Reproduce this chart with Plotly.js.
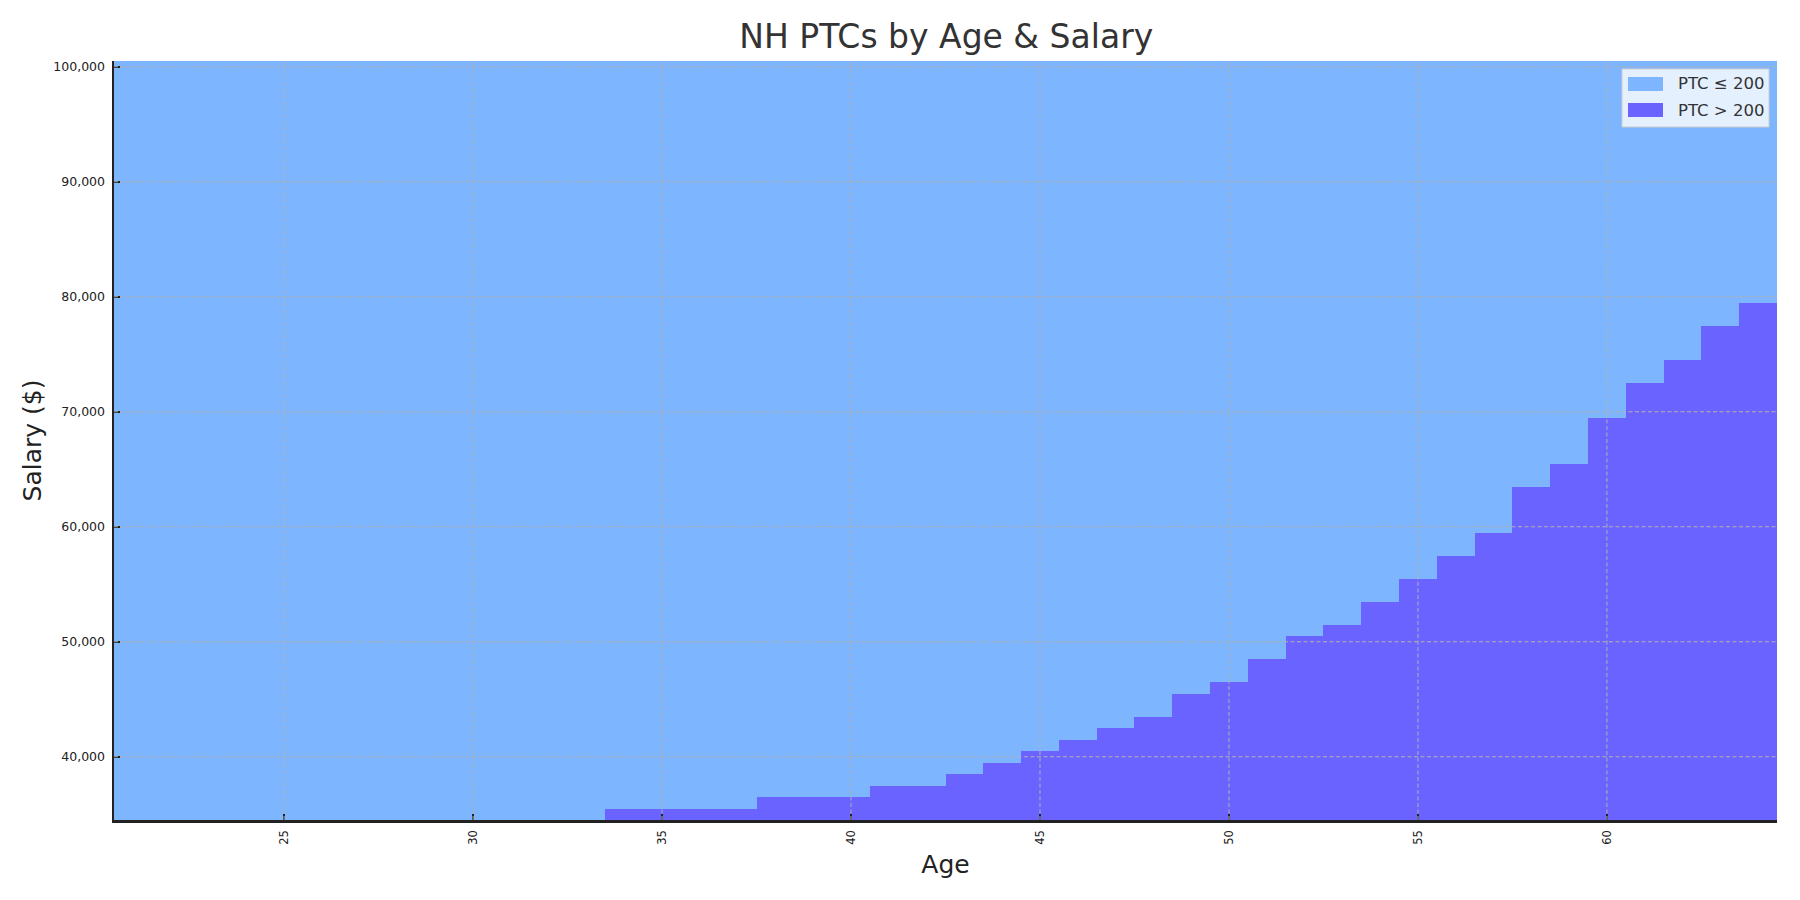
<!DOCTYPE html>
<html>
<head>
<meta charset="utf-8">
<script src="https://cdn.plot.ly/plotly-3.0.1.min.js"></script>
<style>
  html, body { margin: 0; padding: 0; background: #ffffff; }
  #chart { width: 1800px; height: 900px; }
</style>
</head>
<body>
<div id="chart"></div>
<script>
// ---- Data ----
const ages = [21,22,23,24,25,26,27,28,29,30,31,32,33,34,35,36,37,38,39,40,41,42,43,44,45,46,47,48,49,50,51,52,53,54,55,56,57,58,59,60,61,62,63,64];
// highest salary (in $1,000 bins) at which PTC > 200, per age (null = none)
const maxSalaryPtcOver200 = [null,null,null,null,null,null,null,null,null,null,null,null,null,
  35000,35000,35000,35000,36000,36000,36000,37000,37000,38000,39000,40000,41000,42000,43000,
  45000,46000,48000,50000,51000,53000,55000,57000,59000,63000,65000,69000,72000,74000,77000,79000];
const salaryMin = 35000;
const salaryMax = 100000;
const salaryStep = 1000;
const xTickVals = [25,30,35,40,45,50,55,60];
const yTickVals = [40000,50000,60000,70000,80000,90000,100000];
const seriesNames = ['PTC \u2264 200', 'PTC > 200'];
const colors = ['#7EB5FF', '#6B63FF'];

// ---- Build traces ----
const cellBase = salaryMin - salaryStep / 2;
const cellTop = salaryMax + salaryStep / 2;

const lowTrace = {
  type: 'bar',
  name: seriesNames[0],
  x: ages,
  y: ages.map(() => cellTop - cellBase),
  base: ages.map(() => cellBase),
  width: 1,
  marker: { color: colors[0], line: { width: 0 } },
  hoverinfo: 'skip',
  showlegend: false
};

const hiAges = [], hiHeights = [], hiBase = [];
ages.forEach((a, i) => {
  const s = maxSalaryPtcOver200[i];
  if (s !== null) {
    hiAges.push(a);
    hiBase.push(cellBase);
    hiHeights.push(s + salaryStep / 2 - cellBase);
  }
});
const highTrace = {
  type: 'bar',
  name: seriesNames[1],
  x: hiAges,
  y: hiHeights,
  base: hiBase,
  width: 1,
  marker: { color: colors[1], line: { width: 0 } },
  hoverinfo: 'skip',
  showlegend: false
};

// dashed grid drawn above the filled areas
const gridStyle = { color: '#b0b0b0', width: 1, dash: '4px,2.5px' };
const shapes = [];
xTickVals.forEach(v => shapes.push({ type: 'line', layer: 'above', xref: 'x', yref: 'paper', x0: v, x1: v, y0: 0, y1: 1, line: gridStyle }));
yTickVals.forEach(v => shapes.push({ type: 'line', layer: 'above', xref: 'paper', yref: 'y', x0: 0, x1: 1, y0: v, y1: v, line: gridStyle }));

// ---- Custom legend (matplotlib-style wide patches) ----
const margin = { l: 114, r: 23, t: 61, b: 80 };
const plotW = 1800 - margin.l - margin.r;
const plotH = 900 - margin.t - margin.b;
const px = x => (x - margin.l) / plotW;          // pixel -> paper x
const py = y => (900 - margin.b - y) / plotH;    // pixel -> paper y
const legendBox = { x0: 1622, x1: 1769, y0: 69, y1: 127 };
shapes.push({
  type: 'rect', layer: 'above', xref: 'paper', yref: 'paper',
  x0: px(legendBox.x0), x1: px(legendBox.x1), y0: py(legendBox.y1), y1: py(legendBox.y0),
  fillcolor: 'rgba(255,255,255,0.8)', line: { color: '#cccccc', width: 1 }
});
const annotations = [];
seriesNames.forEach((name, i) => {
  const cy = 84 + i * 26;
  shapes.push({
    type: 'rect', layer: 'above', xref: 'paper', yref: 'paper',
    x0: px(1628), x1: px(1663), y0: py(cy + 7), y1: py(cy - 7),
    fillcolor: colors[i], line: { width: 0 }
  });
  annotations.push({
    xref: 'paper', yref: 'paper', x: px(1676), y: py(cy),
    xanchor: 'left', yanchor: 'middle', showarrow: false,
    text: name, font: { size: 16.5, color: '#333333' }
  });
});

const layout = {
  width: 1800,
  height: 900,
  paper_bgcolor: '#ffffff',
  plot_bgcolor: '#ffffff',
  font: { family: 'DejaVu Sans, sans-serif', color: '#222222' },
  margin: margin,
  barmode: 'overlay',
  bargap: 0,
  showlegend: false,
  title: {
    text: 'NH PTCs by Age & Salary',
    font: { size: 33, color: '#333333', family: 'DejaVu Sans, sans-serif' },
    x: 0.5257, xanchor: 'center',
    y: 0.959, yanchor: 'middle'
  },
  xaxis: {
    range: [ages[0] - 0.5, ages[ages.length - 1] + 0.5],
    tickmode: 'array',
    tickvals: xTickVals,
    ticktext: xTickVals.map(String),
    tickangle: -90,
    tickfont: { size: 11.5, color: '#222222' },
    ticks: 'inside',
    ticklen: 6,
    tickwidth: 2,
    tickcolor: '#222222',
    ticklabelstandoff: 3,
    showgrid: false,
    zeroline: false,
    showline: true,
    linecolor: '#222222',
    linewidth: 2.5,
    mirror: false,
    automargin: false,
    title: { text: 'Age', font: { size: 25, color: '#222222' }, standoff: 12 }
  },
  yaxis: {
    range: [cellBase, cellTop],
    tickmode: 'array',
    tickvals: yTickVals,
    ticktext: yTickVals.map(v => v.toLocaleString('en-US')),
    tickfont: { size: 12.5, color: '#222222' },
    ticks: 'inside',
    ticklen: 6,
    tickwidth: 2,
    tickcolor: '#222222',
    ticklabelstandoff: 4,
    showgrid: false,
    zeroline: false,
    showline: true,
    linecolor: '#222222',
    linewidth: 2.5,
    mirror: false,
    automargin: false,
    title: { text: 'Salary ($)', font: { size: 25, color: '#222222' }, standoff: 5 }
  },
  shapes: shapes,
  annotations: annotations
};

Plotly.newPlot('chart', [lowTrace, highTrace], layout, { displayModeBar: false, staticPlot: true });
</script>
</body>
</html>
